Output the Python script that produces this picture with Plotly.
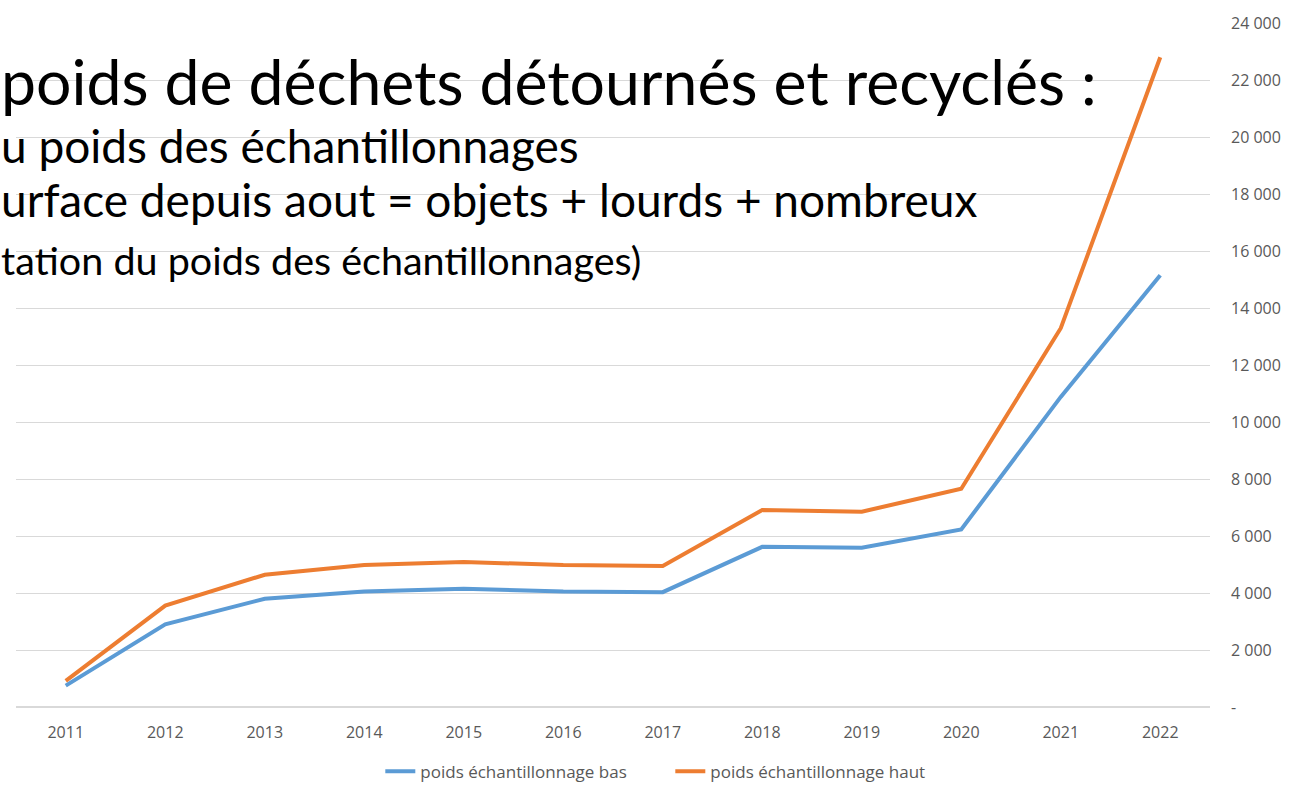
import plotly.graph_objects as go

years = ["2011", "2012", "2013", "2014", "2015", "2016", "2017", "2018", "2019", "2020", "2021", "2022"]
poids_bas = [750, 2900, 3800, 4050, 4150, 4050, 4030, 5620, 5590, 6230, 10880, 15150]
poids_haut = [920, 3560, 4640, 4980, 5090, 4980, 4950, 6910, 6850, 7660, 13290, 22800]
y_ticks = [0, 2000, 4000, 6000, 8000, 10000, 12000, 14000, 16000, 18000, 20000, 22000, 24000]
y_tick_text = ["-", "2 000", "4 000", "6 000", "8 000", "10 000", "12 000", "14 000",
               "16 000", "18 000", "20 000", "22 000", "24 000"]

# heading lines drawn over the chart: (text, font size, vertical centre in px)
title_lines = [
    ("poids de déchets détournés et recyclés :", 62.5, 77),
    ("u poids des échantillonnages", 46, 144),
    ("urface depuis aout = objets + lourds + nombreux", 46, 200),
    ("tation du poids des échantillonnages)", 39.5, 262),
]

fig = go.Figure()
fig.add_trace(go.Scatter(x=years, y=poids_bas, mode="lines", name="poids échantillonnage bas",
                         line=dict(color="#5B9BD5", width=4)))
fig.add_trace(go.Scatter(x=years, y=poids_haut, mode="lines", name="poids échantillonnage haut",
                         line=dict(color="#ED7D31", width=4)))

W, H = 1301, 802
ml, mr, mt, mb = 16, 91, 17, 77
ph = H - mt - mb
for text, size, ypix in title_lines:
    fig.add_annotation(text=text, xref="paper", yref="paper",
                       x=0, xshift=-ml, y=1 - (ypix - mt) / ph,
                       xanchor="left", yanchor="middle", showarrow=False, borderpad=0,
                       font=dict(family="Lato, sans-serif", size=size, color="#000000"))

fig.update_layout(
    width=W, height=H,
    margin=dict(l=ml, r=mr, t=mt, b=mb),
    plot_bgcolor="white", paper_bgcolor="white",
    font=dict(family="Open Sans, sans-serif", color="#595959", size=16),
    showlegend=True,
    legend=dict(orientation="h", x=0.548, xanchor="center", y=-(792 - 725) / ph, yanchor="middle",
                entrywidth=245, entrywidthmode="pixels",
                font=dict(size=17, color="#595959")),
    xaxis=dict(type="category", range=[-0.5, 11.5], showgrid=False, showline=False, ticks="",
               tickfont=dict(size=16, color="#595959"), ticklabelstandoff=14),
    yaxis=dict(side="right", range=[0, 24000], tickvals=y_ticks, ticktext=y_tick_text,
               showgrid=True, gridcolor="#D9D9D9", gridwidth=1, zeroline=True,
               zerolinecolor="#D9D9D9", showline=False, ticks="",
               tickfont=dict(size=16, color="#595959"), ticklabelstandoff=20),
)

fig.write_html("out.html")
